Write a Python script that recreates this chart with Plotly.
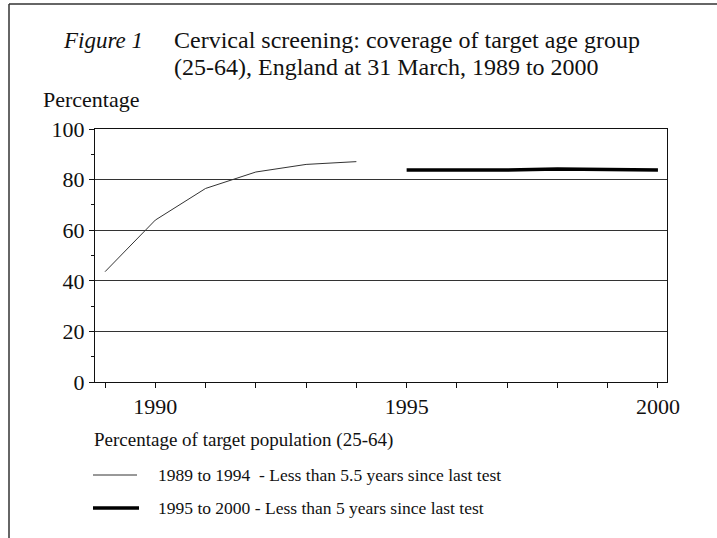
import plotly.graph_objects as go

# ── data ────────────────────────────────────────────────────────────
years_old = [1989, 1990, 1991, 1992, 1993, 1994]
cover_old = [43.6, 64.0, 76.5, 83.0, 86.0, 87.1]   # < 5.5 years since last test

years_new = [1995, 1996, 1997, 1998, 1999, 2000]
cover_new = [83.8, 83.7, 83.8, 84.2, 84.1, 83.8]   # < 5 years since last test

x_ticks = [1990, 1995, 2000]
y_ticks = [0, 20, 40, 60, 80, 100]

FONT = "Liberation Serif, Times New Roman, serif"
INK = "#111111"

W, H = 717, 538
L, R, T, B = 95, 667, 129, 382   # plot area in pixels


def px(x):
    return (x - L) / (R - L)


def py(y):
    return (B - y) / (B - T)


fig = go.Figure()
fig.add_trace(go.Scatter(x=years_old, y=cover_old, mode="lines",
                         line=dict(color="#333333", width=1), showlegend=False))
fig.add_trace(go.Scatter(x=years_new, y=cover_new, mode="lines",
                         line=dict(color="#000000", width=3.5), showlegend=False))

ann = [
    dict(x=px(61), y=py(40), text="<i>Figure 1</i>", size=23),
    dict(x=px(172), y=py(40), text="Cervical screening: coverage of target age group", size=24),
    dict(x=px(172), y=py(67), text="(25-64), England at 31 March, 1989 to 2000", size=24),
    dict(x=px(41), y=py(99), text="Percentage", size=22),
    dict(x=px(92), y=py(440), text="Percentage of target population (25-64)", size=19),
    dict(x=px(156), y=py(475), text="1989 to 1994  - Less than 5.5 years since last test", size=17.5),
    dict(x=px(156), y=py(508), text="1995 to 2000 - Less than 5 years since last test", size=17.5),
]
for a in ann:
    fig.add_annotation(x=a["x"], y=a["y"], xref="paper", yref="paper", text=a["text"],
                       showarrow=False, xanchor="left", yanchor="middle",
                       font=dict(family=FONT, size=a["size"], color=INK))

shapes = [
    # legend samples
    dict(x0=px(93), x1=px(137), y0=py(475), y1=py(475), line=dict(color="#333333", width=1)),
    dict(x0=px(93), x1=px(139), y0=py(508), y1=py(508), line=dict(color="#000000", width=3.5)),
    # outer frame (top and left only)
    dict(x0=px(9), x1=px(W), y0=py(4), y1=py(4), line=dict(color="#333333", width=1.5)),
    dict(x0=px(9), x1=px(9), y0=py(4), y1=py(H), line=dict(color="#333333", width=1.5)),
]
for s in shapes:
    fig.add_shape(type="line", xref="paper", yref="paper", **s)

fig.update_layout(
    width=W, height=H,
    paper_bgcolor="white", plot_bgcolor="white",
    margin=dict(l=L, r=W - R, t=T, b=H - B),
    font=dict(family=FONT, color=INK),
    xaxis=dict(range=[1988.8, 2000.18], tickvals=x_ticks, ticks="outside",
               ticklen=5, tickcolor=INK, showgrid=False, zeroline=False,
               showline=True, linecolor=INK, linewidth=1, mirror=True,
               tickfont=dict(family=FONT, size=22, color=INK),
               minor=dict(dtick=1, tick0=1989, ticks="outside", ticklen=5, tickcolor=INK)),
    yaxis=dict(range=[0, 100], tickvals=y_ticks, ticks="outside", ticklen=5,
               tickcolor=INK, showgrid=True, gridcolor="#333333", gridwidth=1,
               zeroline=False, showline=True, linecolor=INK, linewidth=1, mirror=True,
               tickfont=dict(family=FONT, size=22, color=INK),
               minor=dict(dtick=10, ticks="outside", ticklen=3, tickcolor=INK,
                          showgrid=False)),
)

# drop the default page margin so the figure sits at the window's corner
fig.write_html("out.html", config={"displayModeBar": False},
               post_script="document.body.style.margin='0';")
